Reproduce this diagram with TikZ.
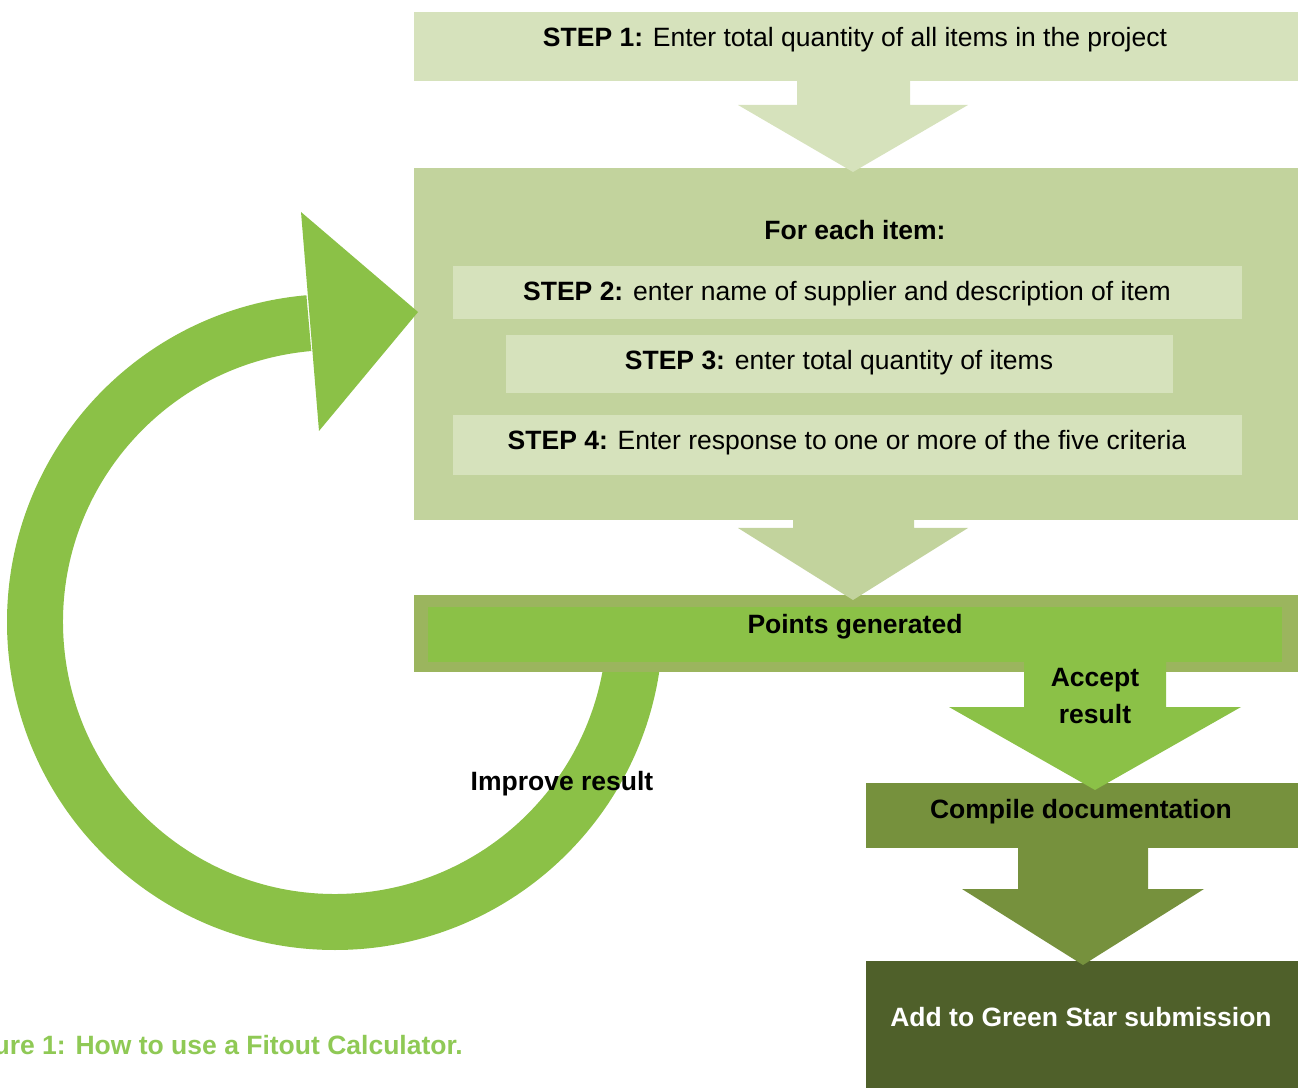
\documentclass[tikz,border=0pt]{standalone}
\usepackage{fontspec}
\setmainfont{Liberation Sans}
\usetikzlibrary{calc}
\definecolor{lightg}{RGB}{214,226,188}
\definecolor{midg}{RGB}{194,211,157}
\definecolor{ptsout}{RGB}{155,181,94}
\definecolor{brightg}{RGB}{139,193,71}
\definecolor{compileg}{RGB}{118,145,61}
\definecolor{addg}{RGB}{79,96,42}
\definecolor{capg}{RGB}{143,201,85}
\tikzset{
  box/.style={draw=none, inner sep=0pt, outer sep=0pt, anchor=south west},
  lbl/.style={inner sep=0pt, font=\fontsize{26.5}{32}\selectfont},
}
\begin{document}
\begin{tikzpicture}[x=1pt,y=1pt]
\useasboundingbox (0,0) rectangle (1298,1088);
% boxes
\node[box, fill=lightg, minimum width=884, minimum height=69] (step1) at (414,1007) {};
\node[box, fill=midg, minimum width=884, minimum height=352] (each) at (414,568) {};
\node[box, fill=lightg, minimum width=789, minimum height=53] (step2) at (453,769) {};
\node[box, fill=lightg, minimum width=667, minimum height=58] (step3) at (506,695) {};
\node[box, fill=lightg, minimum width=789, minimum height=60] (step4) at (453,613) {};
% improve loop
\coordinate (C) at (335,466);
\fill[brightg] ($(C)+(0:328)$) arc[start angle=0, end angle=-265, radius=328]
  -- ($(C)+(-265:272)$) arc[start angle=-265, end angle=0, radius=272] -- cycle;
\fill[brightg] (301,876) -- (418,776) -- (319,657) -- cycle;
% points generated
\node[box, fill=ptsout, minimum width=884, minimum height=77] (points) at (414,416) {};
\node[box, fill=brightg, minimum width=854, minimum height=55] (pointsin) at (428,426) {};
\node[box, fill=compileg, minimum width=432, minimum height=65] (compile) at (866,240) {};
\node[box, fill=addg, minimum width=432, minimum height=127] (add) at (866,0) {};
% block arrows
\fill[lightg] (797,1008) -- (910,1008) -- (910,983) -- (968,983) -- (853,916) -- (738,983) -- (797,983) -- cycle;
\fill[midg] (793,569) -- (914,569) -- (914,560) -- (968,560) -- (853,488) -- (738,560) -- (793,560) -- cycle;
\fill[brightg] (1024,428) -- (1166,428) -- (1166,381) -- (1241,381) -- (1095,298) -- (949,381) -- (1024,381) -- cycle;
\fill[compileg] (1018,241) -- (1148,241) -- (1148,199) -- (1204,199) -- (1083,123) -- (962,199) -- (1018,199) -- cycle;
% labels
\node[lbl] (t1) at (855,1048) {\textbf{STEP 1:} Enter total quantity of all items in the project};
\node[lbl] (tfor) at (855,858) {\textbf{For each item:}};
\node[lbl] (t2) at (847,794) {\textbf{STEP 2:} enter name of supplier and description of item};
\node[lbl] (t3) at (839,725) {\textbf{STEP 3:} enter total quantity of items};
\node[lbl] (t4) at (847,645) {\textbf{STEP 4:} Enter response to one or more of the five criteria};
\node[lbl] (tpts) at (855,461) {\textbf{Points generated}};
\node[lbl, align=center, font=\fontsize{26.5}{37}\selectfont\bfseries] (tacc) at (1095,392) {Accept\\result};
\node[lbl] (tcomp) at (1081,276) {\textbf{Compile documentation}};
\node[lbl, text=white] (tadd) at (1081,71) {\textbf{Add to Green Star submission}};
\node[lbl] (timp) at (562,304) {\textbf{Improve result}};
\node[lbl, text=capg, anchor=east] (cap) at (463,43) {\textbf{ure 1: How to use a Fitout Calculator.}};
\end{tikzpicture}
\end{document}
